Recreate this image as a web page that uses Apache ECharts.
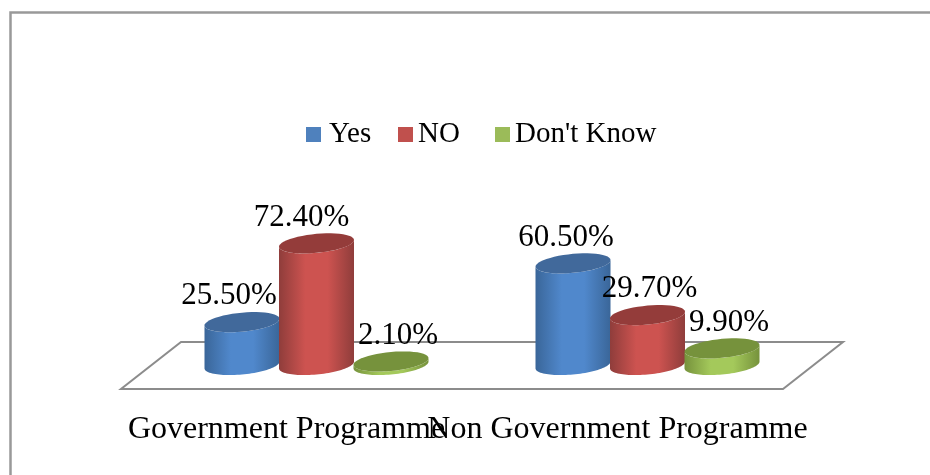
<!DOCTYPE html>
<html>
<head>
<meta charset="utf-8">
<script src="https://cdn.jsdelivr.net/npm/echarts@6/dist/echarts.min.js"></script>
<style>
    html, body { margin: 0; padding: 0; background: #fff; }
    #chart { width: 930px; height: 475px; }
</style>
</head>
<body>
<div id="chart"></div>
<script>
const categories = ['Government Programme', 'Non Government Programme'];
const seriesNames = ['Yes', 'NO', "Don't Know"];
const yesValues = [25.5, 60.5];
const noValues = [72.4, 29.7];
const dontKnowValues = [2.1, 9.9];

const fontFamily = '"Liberation Serif", "Times New Roman", serif';

// colours per series: [cylinder edge, cylinder middle, top cap, legend]
const palette = [
    ['#3a6699', '#5088cc', '#41699b', '#4f81bd'],
    ['#8f3d3b', '#cd5350', '#943c3a', '#c0504d'],
    ['#76923c', '#a4c95b', '#76923c', '#9bbb59']
];

// the fake 3D floor and how far the cylinders stand back on it
const floorShift = 60;
const floorDepth = 47;
const standShiftX = 30;
const standShiftY = 24;

const cylinderGap = 74.5;
const cylinderRx = 37.5;
const cylinderRy = 9.5;
const cylinderSlope = 0.09;

// data labels are not centred on their cylinders in the original
const labelNudge = [[-13, -7], [-15, 2], [7, 7]];

// legend entries are unevenly spaced in the original: [left, gap after icon]
const legendSpots = [[301, 3], [393, 0], [490, 0]];

// points of a sheared ellipse, from angle a to angle b
function ellipsePoints(cx, cy, a, b) {
    const pts = [];
    const steps = 48;
    for (let i = 0; i <= steps; i++) {
        const t = a + (b - a) * i / steps;
        const dx = cylinderRx * Math.cos(t);
        pts.push([cx + dx, cy + cylinderRy * Math.sin(t) - cylinderSlope * dx]);
    }
    return pts;
}

function renderCylinder(params, api) {
    const s = params.seriesIndex - 1;
    const catIndex = api.value(0);
    const value = api.value(1);
    const base = api.coord([catIndex, 0]);
    const top = api.coord([catIndex, value]);
    const cx = base[0] + standShiftX + (s - 1) * cylinderGap;
    const baseY = base[1] - standShiftY;
    const topY = top[1] - standShiftY;
    const colors = palette[s];

    const body = ellipsePoints(cx, baseY, 0, Math.PI).concat(ellipsePoints(cx, topY, Math.PI, 0));
    return {
        type: 'group',
        children: [
            {
                type: 'polygon',
                shape: { points: body },
                style: {
                    fill: new echarts.graphic.LinearGradient(0, 0, 1, 0, [
                        { offset: 0, color: colors[0] },
                        { offset: 0.35, color: colors[1] },
                        { offset: 0.65, color: colors[1] },
                        { offset: 1, color: colors[0] }
                    ])
                }
            },
            {
                type: 'polygon',
                shape: { points: ellipsePoints(cx, topY, 0, Math.PI * 2) },
                style: { fill: colors[2] }
            },
            {
                type: 'text',
                z2: 10,
                style: {
                    text: value.toFixed(2) + '%',
                    x: cx + labelNudge[s][catIndex],
                    y: topY - 26,
                    align: 'center',
                    verticalAlign: 'middle',
                    fontFamily: fontFamily,
                    fontSize: 31,
                    fill: '#000'
                }
            }
        ]
    };
}

function renderFloor(params, api) {
    const box = params.coordSys;
    const bottom = box.y + box.height;
    return {
        type: 'polygon',
        shape: {
            points: [
                [box.x, bottom],
                [box.x + box.width, bottom],
                [box.x + box.width + floorShift, bottom - floorDepth],
                [box.x + floorShift, bottom - floorDepth]
            ]
        },
        style: { fill: '#fff', stroke: '#8c8c8c', lineWidth: 2 }
    };
}

function cylinderSeries(index, values) {
    return {
        name: seriesNames[index],
        type: 'custom',
        renderItem: renderCylinder,
        itemStyle: { color: palette[index][3] },
        encode: { x: 0, y: 1 },
        data: values.map((v, i) => [i, v])
    };
}

const chart = echarts.init(document.getElementById('chart'), null, { renderer: 'canvas' });

chart.setOption({
    animation: false,
    backgroundColor: '#fff',
    graphic: [{
        type: 'rect',
        left: 8,
        top: 10,
        shape: { width: 1000, height: 600 },
        style: { fill: 'none', stroke: '#999', lineWidth: 2.5 },
        silent: true
    }],
    legend: seriesNames.map((name, i) => ({
        left: legendSpots[i][0],
        top: 115,
        data: [name],
        icon: 'rect',
        itemWidth: 15,
        itemHeight: 15,
        textStyle: {
            fontFamily: fontFamily,
            fontSize: 29,
            color: '#000',
            padding: [6, 0, 0, legendSpots[i][1]]
        }
    })),
    grid: { left: 121, right: 147, top: 221, bottom: 86 },
    xAxis: {
        type: 'category',
        data: categories,
        axisLine: { show: false },
        axisTick: { show: false },
        axisLabel: {
            interval: 0,
            margin: 25,
            hideOverlap: false,
            fontFamily: fontFamily,
            fontSize: 32,
            color: '#000'
        }
    },
    yAxis: { type: 'value', min: 0, max: 100, show: false },
    series: [
        {
            name: 'floor',
            type: 'custom',
            renderItem: renderFloor,
            silent: true,
            data: [[0, 0]]
        },
        cylinderSeries(0, yesValues),
        cylinderSeries(1, noValues),
        cylinderSeries(2, dontKnowValues)
    ]
});
</script>
</body>
</html>
